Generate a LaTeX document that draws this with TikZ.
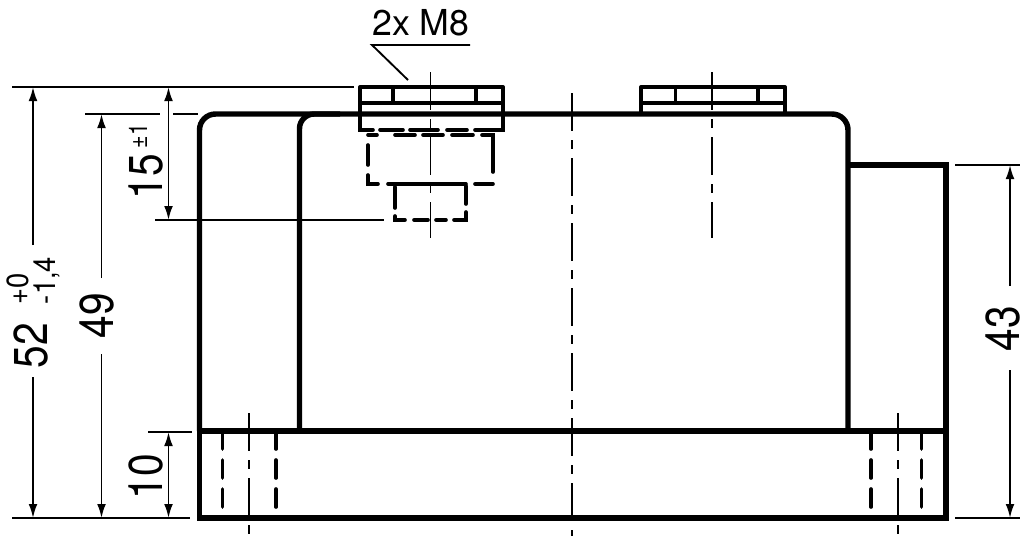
\documentclass[tikz,border=0pt]{standalone}
\usepackage{fontspec}
\setmainfont{TeX Gyre Heros}
\usetikzlibrary{arrows.meta}
\newcommand{\dimA}[1]{\fontsize{30.5pt}{30pt}\selectfont\scalebox{1}[1.17]{#1}}
\newcommand{\dimB}[1]{\fontsize{20.5pt}{20pt}\selectfont\scalebox{1}[1.12]{#1}}
\newcommand{\dimC}[1]{\fontsize{16pt}{16pt}\selectfont\scalebox{1}[1.2]{#1}}
\tikzset{
  heavy/.style={line width=4.1pt,line join=miter},
  medium/.style={line width=2.5pt,line join=round},
  hid/.style={line width=2.7pt,line cap=round},
  thin line/.style={line width=1.4pt},
  centre/.style={line width=1.4pt,dash pattern=on 28.5pt off 6.75pt on 6.75pt off 6.75pt},
  dimline/.style={line width=1.4pt,-{Latex[length=10.5pt,width=6.6pt]}},
  dimboth/.style={line width=1.4pt,{Latex[length=10.5pt,width=6.6pt]}-{Latex[length=10.5pt,width=6.6pt]}},
  lab/.style={rotate=90,anchor=base west,inner sep=0pt,outer sep=0pt},
}
\begin{document}
\begin{tikzpicture}[x=0.75pt,y=-0.75pt]
\useasboundingbox (0,0) rectangle (1020,536);
% extension lines
\draw[thin line] (12,87) -- (354,87);
\draw[thin line] (85,114) -- (160,114) (173,114) -- (198,114);
\draw[thin line] (155,220) -- (384,220);
\draw[thin line] (148,432) -- (192,432);
\draw[thin line] (12,518) -- (190,518);
\draw[thin line] (955,165) -- (1020,165) (955,518) -- (1020,518);
% dimension arrows
\coordinate (a52t) at (33,87); \coordinate (a52b) at (33,518);
\draw[dimline] (33,245) -- (a52t);
\draw[dimline] (33,377) -- (a52b);
\coordinate (a49t) at (101.5,114); \coordinate (a49b) at (101.5,518);
\draw[dimline] (101.5,278) -- (a49t);
\draw[dimline] (101.5,354) -- (a49b);
\draw[dimboth] (168.5,87) -- (168.5,220);
\draw[dimboth] (168.5,432) -- (168.5,518);
\draw[dimline] (1010,286) -- (1010,165);
\draw[dimline] (1010,370) -- (1010,518);
% centre lines
\draw[centre] (430.5,72) -- (430.5,238);
\draw[centre] (712,72) -- (712,238);
\draw[centre] (572,93) -- (572,536);
\draw[centre] (249,413) -- (249,534);
\draw[centre] (898,413) -- (898,534);
% body
\draw[heavy,rounded corners=12pt] (199.5,431) -- (199.5,114) -- (848,114) -- (848,431);
\draw[heavy,rounded corners=11pt] (299.5,431) -- (299.5,114) -- (340,114);
\draw[heavy] (848,165) -- (946,165) -- (946,518) -- (199.5,518) -- (199.5,431) -- (946,431);
% nut 1
\draw[medium] (360,114) -- (360,87) -- (503,87) -- (503,114);
\draw[medium] (360,103) -- (503,103);
\draw[medium] (393,87) -- (393,103) (476,87) -- (476,103);
\draw[hid] (360,114) -- (360,130) -- (373,130) (380,130) -- (403,130) (410,130) -- (438,130) (447,130) -- (467,130) (475,130) -- (503,130) -- (503,114);
% hidden head
\draw[hid] (368,135) -- (377,135) (395,135) -- (415,135) (423,135) -- (443,135) (452,135) -- (473,135) (482,135) -- (493,135) -- (493,172);
\draw[hid] (368,145) -- (368,165) (368,175) -- (368,184) -- (378,184) (388,184) -- (466,184) (475,184) -- (493,184);
% hidden thread
\draw[hid] (395,187) -- (395,208) (395,216) -- (395,220) -- (405,220) (414,220) -- (428,220) (436,220) -- (446,220) (454,220) -- (466,220) -- (466,212) (466,204) -- (466,186);
% nut 2
\draw[medium] (641,114) -- (641,87) -- (785,87) -- (785,114);
\draw[medium] (641,103) -- (785,103);
\draw[medium] (675.5,87) -- (675.5,103) (758,87) -- (758,103);
% holes
\foreach \hx in {222.5,276,871,921.5}{
  \draw[hid] (\hx,433) -- (\hx,449) (\hx,460) -- (\hx,478) (\hx,489) -- (\hx,507);
}
% leader
\coordinate (ldA) at (470,45); \coordinate (ldB) at (372,45); \coordinate (ldC) at (408,80);
\draw[thin line] (ldA) -- (ldB) -- (ldC);
% labels
\node[anchor=base west,inner sep=0pt,font=\fontsize{26.8pt}{27pt}\selectfont] (lM) at (372,35) {2x M8};
\node[lab] (l52) at (47,368) {\dimA{52}};
\node[lab] (l0) at (28,304) {\dimB{+0}};
\node[lab] (l14) at (55.5,304) {\dimB{-1,4}};
\node[lab] (l49) at (113,338) {\dimA{49}};
\node[lab] (l15) at (162,199) {\dimA{15}};
\node[lab] (lpm) at (147,148) {\dimC{±1}};
\node[lab] (l10) at (162,499) {\dimA{10}};
\node[lab] (l43) at (1019,351) {\dimA{43}};
\end{tikzpicture}
\end{document}
